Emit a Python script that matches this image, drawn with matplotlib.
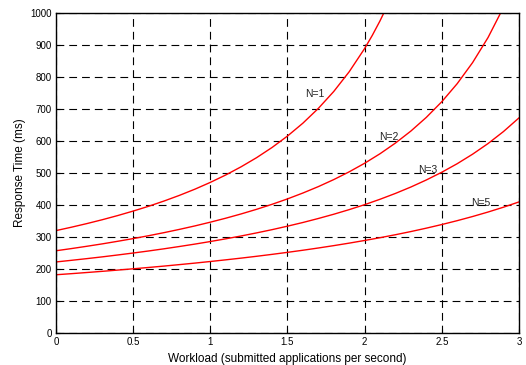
import matplotlib
matplotlib.use("Agg")
import matplotlib.pyplot as plt

plt.rcParams['font.family'] = ['Liberation Sans', 'DejaVu Sans']

# workload (applications per second) sampled along each curve
x_n1 = [0, 0.1, 0.2, 0.3, 0.4, 0.5, 0.6, 0.7, 0.8, 0.9, 1.0, 1.1, 1.2, 1.3, 1.4,
        1.5, 1.6, 1.7, 1.8, 1.9, 2.0, 2.05, 2.1, 2.15]
rt_n1 = [320.0, 330.6, 341.9, 354.0, 367.0, 381.0, 396.0, 412.4, 430.1, 449.4,
         470.6, 493.8, 519.5, 547.9, 579.7, 615.4, 655.7, 701.8, 754.7, 816.3,
         888.9, 930.2, 975.6, 1025.6]

x_n2 = [0, 0.1, 0.2, 0.3, 0.4, 0.5, 0.6, 0.7, 0.8, 0.9, 1.0, 1.1, 1.2, 1.3, 1.4,
        1.5, 1.6, 1.7, 1.8, 1.9, 2.0, 2.1, 2.2, 2.3, 2.4, 2.5, 2.6, 2.7, 2.8, 2.9]
rt_n2 = [257.0, 263.8, 271.0, 278.5, 286.6, 295.0, 304.0, 313.6, 323.8, 334.6,
         346.3, 358.7, 372.1, 386.5, 402.1, 419.0, 437.4, 457.4, 479.4, 503.6,
         530.4, 560.2, 593.6, 631.1, 673.8, 722.6, 779.1, 845.1, 923.3, 1017.6]

x_n3 = [0, 0.1, 0.2, 0.3, 0.4, 0.5, 0.6, 0.7, 0.8, 0.9, 1.0, 1.1, 1.2, 1.3, 1.4,
        1.5, 1.6, 1.7, 1.8, 1.9, 2.0, 2.1, 2.2, 2.3, 2.4, 2.5, 2.6, 2.7, 2.8, 2.9, 3.0]
rt_n3 = [222.0, 227.1, 232.4, 237.9, 243.8, 249.9, 256.3, 263.1, 270.3, 277.8,
         285.8, 294.3, 303.2, 312.8, 322.9, 333.8, 345.3, 357.8, 371.1, 385.5,
         401.0, 417.9, 436.2, 456.2, 478.2, 502.3, 529.0, 558.8, 592.0, 629.5, 672.0]

x_n5 = x_n3
rt_n5 = [182.0, 185.4, 189.0, 192.7, 196.6, 200.6, 204.8, 209.1, 213.7, 218.4,
         223.4, 228.6, 234.0, 239.7, 245.7, 252.0, 258.6, 265.6, 273.0, 280.8,
         289.1, 297.8, 307.1, 317.0, 327.6, 338.9, 351.0, 364.0, 378.0, 393.1, 409.5]

labels = ['N=1', 'N=2', 'N=3', 'N=5']
label_x = [1.68, 2.16, 2.41, 2.75]
label_y = [748, 611, 508, 405]

fig = plt.figure(figsize=(5.26, 3.65), dpi=100)
ax = fig.add_axes([0.1065, 0.0877, 0.88, 0.8767])

for xs, ys in [(x_n1, rt_n1), (x_n2, rt_n2), (x_n3, rt_n3), (x_n5, rt_n5)]:
    ax.plot(xs, ys, color='red', lw=1.0)

for t, lx, ly in zip(labels, label_x, label_y):
    ax.text(lx, ly, t, fontsize=7.5, ha='center', va='center', color='#222222')

ax.set_xlim(0, 3)
ax.set_ylim(0, 1000)
ax.set_xticks([0, 0.5, 1, 1.5, 2, 2.5, 3])
ax.set_xticklabels(['0', '0.5', '1', '1.5', '2', '2.5', '3'])
ax.set_yticks(range(0, 1001, 100))
ax.tick_params(direction='in', labelsize=7, length=3, width=0.8, pad=3)
ax.grid(True, color='black', linestyle=(0, (7, 4.5)), lw=0.8)
for s in ax.spines.values():
    s.set_linewidth(1.0)

ax.set_xlabel('Workload (submitted applications per second)', fontsize=8.5, labelpad=4)
ax.set_ylabel('Response Time (ms)', fontsize=8.5, labelpad=3)

fig.savefig('out.png', dpi=100)
